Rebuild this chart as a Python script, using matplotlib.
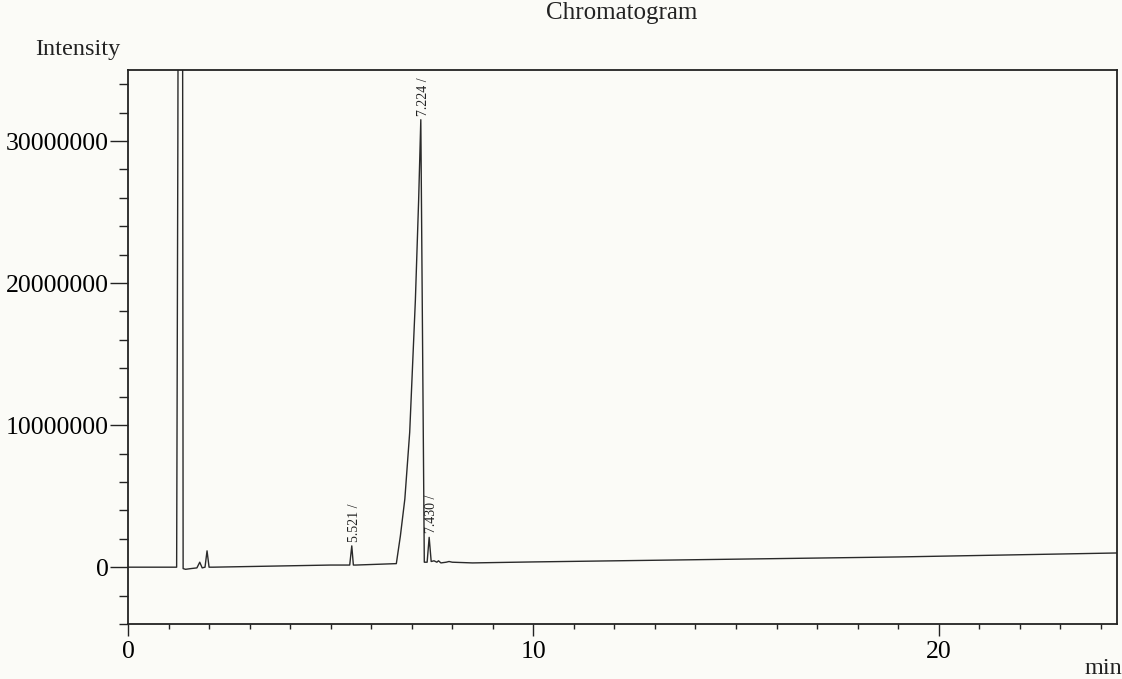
import matplotlib
matplotlib.use("Agg")
import matplotlib.pyplot as plt
from matplotlib.ticker import MultipleLocator, FixedLocator

# ---- data ----
time_min = [0.0, 1.20, 1.23, 1.27, 1.33, 1.36, 1.42, 1.55, 1.70, 1.77, 1.83, 1.90,
            1.95, 2.00, 2.10, 5.00, 5.47, 5.521, 5.56, 5.62, 6.62, 6.72, 6.83,
            6.95, 7.09, 7.17, 7.224, 7.31, 7.38, 7.43, 7.48, 7.55, 7.62, 7.66,
            7.72, 7.85, 7.92, 8.00, 8.50, 10.0, 19.0, 24.4]
intensity = [0.0, 0.0, 3.0e7, 9.0e7, 9.0e7, -0.1e6, -0.15e6, -0.1e6, -0.05e6, 0.35e6,
             -0.05e6, 0.0, 1.15e6, 0.0, 0.0, 0.15e6, 0.15e6, 1.5e6, 0.15e6, 0.15e6,
             0.25e6, 2.2e6, 4.8e6, 9.5e6, 18.8e6, 25.8e6, 31.5e6, 0.35e6, 0.35e6,
             2.1e6, 0.4e6, 0.45e6, 0.35e6, 0.45e6, 0.3e6, 0.35e6, 0.4e6, 0.35e6,
             0.3e6, 0.37e6, 0.72e6, 1.0e6]

peak_labels = ["5.521", "7.224", "7.430"]
peak_times = [5.521, 7.224, 7.430]
peak_heights = [1.5e6, 31.5e6, 2.1e6]

x_ticks = [0, 10, 20]
y_ticks = [0, 10000000, 20000000, 30000000]
y_tick_labels = ["0", "10000000", "20000000", "30000000"]

# ---- figure ----
plt.rcParams['font.family'] = ['Liberation Serif', 'DejaVu Serif']
W, H = 1122, 679
fig = plt.figure(figsize=(W / 100, H / 100), dpi=100)
bg = '#fbfbf7'
fig.patch.set_facecolor(bg)

left, right, top, bottom = 128, 1117, 70, 624
ax = fig.add_axes([left / W, 1 - bottom / H, (right - left) / W, (bottom - top) / H])
ax.set_facecolor(bg)

ax.plot(time_min, intensity, color='#2a2a2a', lw=1.0)
ax.set_xlim(0, 24.4)
ax.set_ylim(-4e6, 35e6)

for s in ax.spines.values():
    s.set_color('#222222')
    s.set_linewidth(1.3)

ax.xaxis.set_major_locator(FixedLocator(x_ticks))
ax.xaxis.set_minor_locator(MultipleLocator(1))
ax.yaxis.set_major_locator(FixedLocator(y_ticks))
ax.set_yticklabels(y_tick_labels)
ax.yaxis.set_minor_locator(MultipleLocator(2e6))

ax.tick_params(axis='y', which='major', direction='out', length=13, width=1.0,
               labelsize=18.5, pad=1, color='#222222')
ax.tick_params(axis='y', which='minor', direction='out', length=6.5, width=1.0, color='#222222')
ax.tick_params(axis='x', which='major', direction='out', length=8.5, width=1.0,
               labelsize=18.5, pad=4, color='#222222')
ax.tick_params(axis='x', which='minor', direction='out', length=3.5, width=1.0, color='#222222')
ax.tick_params(top=False, right=False)

for lbl, t, h in zip(peak_labels, peak_times, peak_heights):
    ax.annotate(lbl + " /", xy=(t, h), xytext=(2, 3), textcoords='offset points',
                rotation=90, ha='center', va='bottom', fontsize=10, color='#222222')

fig.text(622 / W, 1 - 13 / H, "Chromatogram", ha='center', va='center', fontsize=18, color='#222222')
fig.text(78 / W, 1 - 50 / H, "Intensity", ha='center', va='center', fontsize=17.5, color='#222222')
fig.text(1103 / W, 1 - 668 / H, "min", ha='center', va='center', fontsize=17.5, color='#222222')

fig.savefig("out.png", dpi=100, facecolor=bg)
